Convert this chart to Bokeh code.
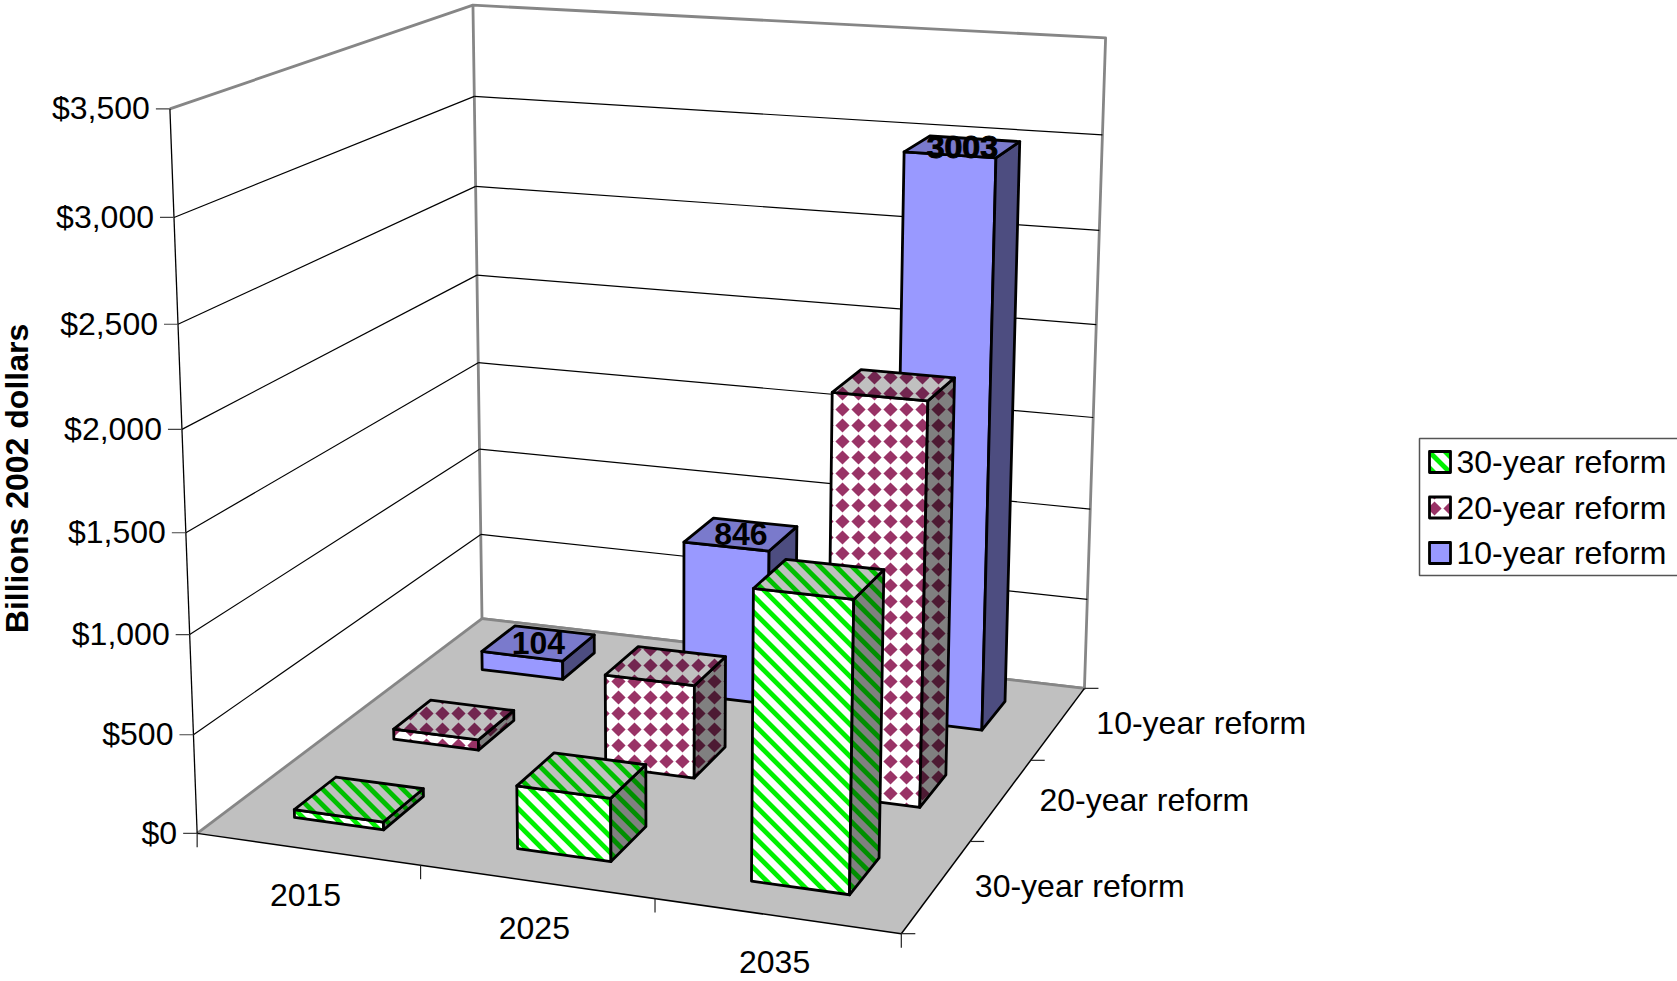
import numpy as np
from bokeh.core.properties import value
from bokeh.embed import file_html
from bokeh.models import Range1d
from bokeh.plotting import figure
from bokeh.resources import INLINE

# Chart data
years = ["2015", "2025", "2035"]
series_names = ["30-year reform", "20-year reform", "10-year reform"]
reform_30 = [40, 315, 1415]
reform_20 = [55, 486, 2045]
reform_10 = [104, 846, 3003]
value_ticks = [0, 500, 1000, 1500, 2000, 2500, 3000, 3500]
value_labels = ["$0", "$500", "$1,000", "$1,500", "$2,000", "$2,500", "$3,000", "$3,500"]
labelled_values = ["", "", ""], ["", "", ""], ["104", "846", "3003"]

Z_MAX = 3500
BAR_SIZE = 0.135
FONT = value("Liberation Sans")
SIZE = "32px"

# Perspective camera: solved from where the chart box's corners land on the page.
box_model = np.array([
    [0, 0, 0], [1, 0, 0], [1, 1, 0], [0, 1, 0],
    [0, 0, 1], [1, 0, 1], [1, 1, 1], [0, 1, 1],
], dtype=float)
box_page = np.array([
    [197, 833], [901, 933], [1084, 688], [481, 618],
    [169, 108], [915, 157], [1105, 37], [473, 5],
], dtype=float)


def solve_camera(model, page):
    rows, rhs = [], []
    for (x, y, z), (u, v) in zip(model, page):
        rows.append([x, y, z, 1, 0, 0, 0, 0, -u * x, -u * y, -u * z])
        rows.append([0, 0, 0, 0, x, y, z, 1, -v * x, -v * y, -v * z])
        rhs += [u, v]
    m = np.linalg.lstsq(np.array(rows), np.array(rhs), rcond=None)[0]
    return np.append(m, 1.0).reshape(3, 4)


CAMERA = solve_camera(box_model, box_page)


def project(x, y, val):
    h = CAMERA @ np.array([x, y, val / Z_MAX, 1.0])
    return h[0] / h[2], h[1] / h[2]


p = figure(
    width=1677, height=981, output_backend="svg", toolbar_location=None,
    x_range=Range1d(0, 1677), y_range=Range1d(981, 0),
    x_axis_type=None, y_axis_type=None, min_border=0,
    outline_line_color=None, background_fill_color="white",
    border_fill_color="white",
)
p.grid.visible = False


def clip_convex(subject, clip):
    """Sutherland-Hodgman clip of a polygon against a convex polygon."""
    area = sum(clip[i][0] * clip[(i + 1) % len(clip)][1] - clip[(i + 1) % len(clip)][0] * clip[i][1]
               for i in range(len(clip)))
    sign = 1 if area > 0 else -1
    output = list(subject)
    for i in range(len(clip)):
        ax, ay = clip[i]
        bx, by = clip[(i + 1) % len(clip)]
        side = lambda q: sign * ((bx - ax) * (q[1] - ay) - (by - ay) * (q[0] - ax))
        polygon, output = output, []
        for k in range(len(polygon)):
            cur, nxt = polygon[k], polygon[(k + 1) % len(polygon)]
            sc, sn = side(cur), side(nxt)
            if sc >= 0:
                output.append(cur)
            if sc * sn < 0:
                t = sc / (sc - sn)
                output.append((cur[0] + t * (nxt[0] - cur[0]), cur[1] + t * (nxt[1] - cur[1])))
        if not output:
            return []
    return output


TILE = 16


def stripe_cells(points, phase=13.6, half_width=3.4):
    ys = [q[1] for q in points]
    xs = [q[0] for q in points]
    y0, y1 = min(ys) - 1, max(ys) + 1
    lo = min(xs) - max(ys) - TILE
    hi = max(xs) - min(ys) + TILE
    cells = []
    c = phase + TILE * np.floor((lo - phase) / TILE)
    while c <= hi:
        band = [(c - half_width + y0, y0), (c + half_width + y0, y0),
                (c + half_width + y1, y1), (c - half_width + y1, y1)]
        cell = clip_convex(band, points)
        if len(cell) >= 3:
            cells.append(cell)
        c += TILE
    return cells


def diamond_cells(points, phase=(10, 9), radius=7.1):
    xs = [q[0] for q in points]
    ys = [q[1] for q in points]
    cells = []
    cx = phase[0] + TILE * np.floor((min(xs) - radius - phase[0]) / TILE)
    while cx <= max(xs) + radius:
        cy = phase[1] + TILE * np.floor((min(ys) - radius - phase[1]) / TILE)
        while cy <= max(ys) + radius:
            diamond = [(cx, cy - radius), (cx + radius, cy), (cx, cy + radius), (cx - radius, cy)]
            cell = clip_convex(diamond, points)
            if len(cell) >= 3:
                cells.append(cell)
            cy += TILE
        cx += TILE
    return cells


# fill and pattern colours for the front, side and top faces of each series
materials = {
    "30-year reform": dict(cells=stripe_cells,
                           front=("#FFFFFF", "#00F000"), side=("#808080", "#008F00"), top=("#C0C0C0", "#00BF00")),
    "20-year reform": dict(cells=diamond_cells,
                           front=("#FFFFFF", "#993366"), side=("#808080", "#4D1A33"), top=("#C0C0C0", "#732650")),
    "10-year reform": dict(cells=None,
                           front=("#9999FF", None), side=("#4D4D80", None), top=("#7A7ACC", None)),
}


def face(points, material, which, line_width=2.8, line_color="black", **phase):
    xs, ys = zip(*points)
    fill, pattern = material[which]
    p.patch(list(xs), list(ys), fill_color=fill, line_color=None)
    if material.get("cells") and pattern:
        cells = material["cells"](points, **phase)
        p.patches([[q[0] for q in c] for c in cells], [[q[1] for q in c] for c in cells],
                  fill_color=pattern, line_color=None)
    if line_width > 0:
        p.line(list(xs) + [xs[0], xs[1]], list(ys) + [ys[0], ys[1]], line_color=line_color,
               line_width=line_width, line_join="round")


def segment(a, b, color="black", width=1.2):
    p.line([a[0], b[0]], [a[1], b[1]], line_color=color, line_width=width)


GREY = "#868686"
WALL = dict(w=("#FFFFFF", None))
FLOOR = dict(w=("#C0C0C0", None))

# Back wall and the top edge of the side wall
face([project(0, 1, 0), project(1, 1, 0), project(1, 1, Z_MAX), project(0, 1, Z_MAX)],
     WALL, "w", line_width=2.8, line_color=GREY)
segment(project(0, 0, Z_MAX), project(0, 1, Z_MAX), GREY, 2.8)

# Gridlines along both walls
for tick in value_ticks[1:-1]:
    segment(project(0, 0, tick), project(0, 1, tick))
    segment(project(0, 1, tick), project(1, 1, tick))

# Floor
face([project(0, 0, 0), project(1, 0, 0), project(1, 1, 0), project(0, 1, 0)],
     FLOOR, "w", line_width=0)
segment(project(0, 0, 0), project(0, 1, 0), GREY, 2.8)
segment(project(0, 1, 0), project(1, 1, 0), GREY, 2.8)
segment(project(0, 0, 0), project(1, 0, 0), "black", 1.5)
segment(project(1, 0, 0), project(1, 1, 0), "black", 1.5)
segment(project(0, 0, 0), project(0, 0, Z_MAX), "black", 1.3)

# Axis ticks and labels
TICK = 14
for tick in value_ticks:
    x, y = project(0, 0, tick)
    p.line([x - TICK, x], [y, y], line_color="#444444", line_width=1.2)
p.text(x=[project(0, 0, t)[0] - 20 for t in value_ticks],
       y=[project(0, 0, t)[1] - 0.5 for t in value_ticks], text=value_labels,
       text_font=FONT, text_font_size=SIZE, text_color="black",
       text_align="right", text_baseline="middle")

for i in range(len(years) + 1):
    x, y = project(i / len(years), 0, 0)
    p.line([x, x], [y, y + TICK], line_color="#222222", line_width=1.2)
for j in range(len(series_names) + 1):
    x, y = project(1, j / len(series_names), 0)
    p.line([x, x + TICK], [y, y], line_color="#222222", line_width=1.2)

p.text(x=[project((i + 0.5) / 3, 0, 0)[0] - 2 for i in range(3)],
       y=[project((i + 0.5) / 3, 0, 0)[1] + 46 for i in range(3)], text=years,
       text_font=FONT, text_font_size=SIZE, text_color="black",
       text_align="center", text_baseline="middle")
p.text(x=[project(1, (j + 0.5) / 3, 0)[0] + 38 for j in range(3)],
       y=[project(1, (j + 0.5) / 3, 0)[1] for j in range(3)], text=series_names,
       text_font=FONT, text_font_size=SIZE, text_color="black",
       text_align="left", text_baseline="middle")

# Bars, back row first so nearer bars overlap farther ones
rows = [reform_30, reform_20, reform_10]
label_points = []
for j in [2, 1, 0]:
    material = materials[series_names[j]]
    for i in range(3):
        val = rows[j][i]
        cx, cy = (i + 0.5) / 3, (j + 0.5) / 3
        x0, x1 = cx - BAR_SIZE / 2, cx + BAR_SIZE / 2
        y0, y1 = cy - BAR_SIZE / 2, cy + BAR_SIZE / 2
        face([project(x0, y0, 0), project(x1, y0, 0), project(x1, y0, val), project(x0, y0, val)], material, "front")
        face([project(x1, y0, 0), project(x1, y1, 0), project(x1, y1, val), project(x1, y0, val)], material, "side")
        face([project(x0, y0, val), project(x1, y0, val), project(x1, y1, val), project(x0, y1, val)], material, "top")
        if labelled_values[j][i]:
            label_points.append((project(cx, cy, val), labelled_values[j][i]))

for (x, y), label in label_points:
    extra = dict(text_outline_color="black") if label == "3003" else {}
    p.text(x=[x], y=[y], text=[label], text_font=FONT, text_font_size=SIZE, text_font_style="bold",
           text_color="black", text_align="center", text_baseline="middle", **extra)

# Value axis title
p.text(x=[16.5], y=[478], text=["Billions 2002 dollars"], angle=np.pi / 2, text_font=FONT,
       text_font_size=SIZE, text_font_style="bold", text_color="black",
       text_align="center", text_baseline="middle")

# Legend
p.quad(left=[1419], right=[1690], top=[438], bottom=[575], fill_color="white",
       line_color="#555555", line_width=1.5)
legend_phase = {"30-year reform": dict(phase=1.5), "20-year reform": dict(phase=(10, 12)), "10-year reform": {}}
for k, name in enumerate(series_names):
    ymid = 461.5 + 45.5 * k
    box = [(1429, ymid - 10.5), (1450, ymid - 10.5), (1450, ymid + 10.5), (1429, ymid + 10.5)]
    face(box, materials[name], "front", **legend_phase[name])
    p.text(x=[1456], y=[ymid], text=[name], text_font=FONT, text_font_size=SIZE,
           text_color="black", text_align="left", text_baseline="middle")

open("out.html", "w").write(file_html(p, INLINE))
